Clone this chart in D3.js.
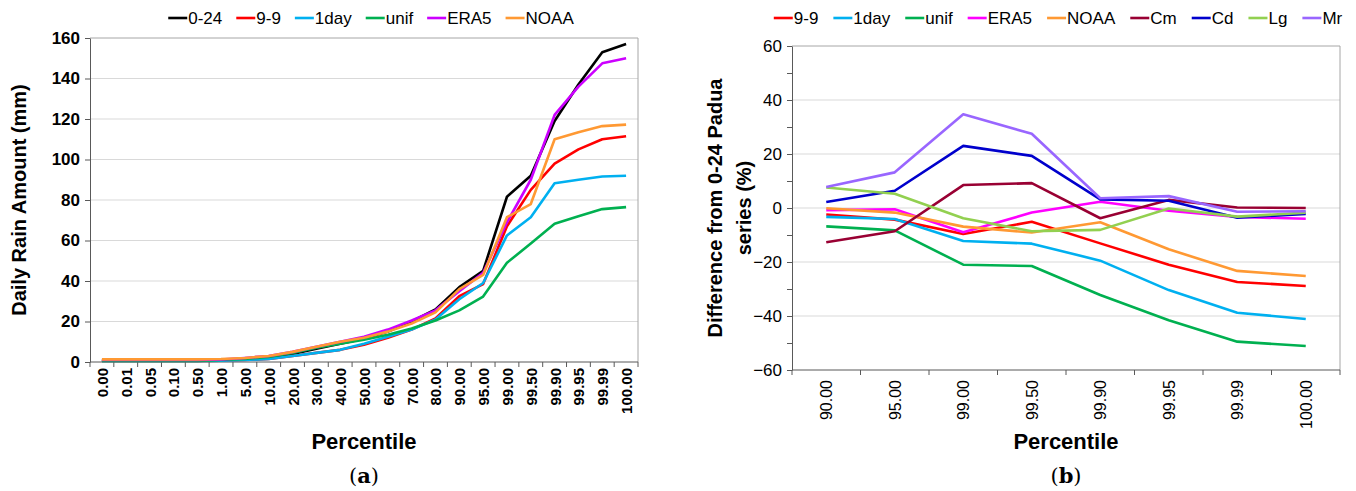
<!DOCTYPE html>
<html>
<head>
<meta charset="utf-8">
<script src="https://cdn.jsdelivr.net/npm/d3@7"></script>
<style>
  body { margin: 0; background: #fff; }
  svg { display: block; font-family: "Liberation Sans Narrow", "Liberation Sans", Arial, sans-serif; }
</style>
</head>
<body>
<svg id="chart" width="1356" height="491"></svg>
<script>
// ---- panel (a) data: daily rain amount by percentile ----
const catsA = ['0.00', '0.01', '0.05', '0.10', '0.50', '1.00', '5.00', '10.00', '20.00', '30.00', '40.00', '50.00',
    '60.00', '70.00', '80.00', '90.00', '95.00', '99.00', '99.50', '99.90', '99.95', '99.99', '100.00'];
const ticksA = [0, 20, 40, 60, 80, 100, 120, 140, 160];
const s024 = [0.8, 0.8, 0.8, 0.8, 0.8, 1, 1.5, 2.5, 4, 6.5, 9, 11.5, 15, 20, 26, 37, 45, 81.6, 92, 119, 137, 153, 157];
const s99 = [0.5, 0.5, 0.5, 0.5, 0.5, 0.7, 1, 1.5, 3, 4.5, 6, 8.5, 12, 16, 21.5, 32.5, 38.5, 67, 85, 98, 105, 110, 111.5];
const s1day = [0.5, 0.5, 0.5, 0.5, 0.5, 0.7, 1, 1.5, 3, 4.5, 6, 9, 12.5, 16, 21, 31, 39, 62.5, 71.5, 88.3, 90, 91.6, 92];
const sUnif = [0.5, 0.5, 0.5, 0.5, 0.5, 1, 1.5, 2.5, 4.5, 7, 9, 11, 13.5, 16.5, 20.5, 25.5, 32.3, 49, 58.5, 68.3, 72, 75.5, 76.5];
const sEra5 = [1, 1, 1, 1, 1, 1.2, 2, 3, 5, 7.5, 10, 12.5, 16, 20.5, 25.5, 35, 44, 69, 90, 122, 136, 147.5, 150];
const sNoaa = [1.3, 1.3, 1.3, 1.3, 1.3, 1.5, 2, 3, 5, 7.5, 10, 12, 15, 19, 24.5, 36, 43, 71.5, 78, 110, 113.5, 116.5, 117.2];

// ---- panel (b) data: difference from the 0-24 Padua series (%) ----
const catsB = ['90.00', '95.00', '99.00', '99.50', '99.90', '99.95', '99.99', '100.00'];
const ticksB = [-60, -40, -20, 0, 20, 40, 60];
const minorB = [-50, -30, -10, 10, 30, 50];
const d99 = [-2.4, -4.3, -9.6, -5.1, -13.1, -21, -27.4, -28.9];
const d1day = [-3.3, -4.1, -12.2, -13.2, -19.5, -30.4, -38.8, -41.1];
const dUnif = [-6.8, -8.3, -21, -21.5, -32.2, -41.6, -49.5, -51.1];
const dEra5 = [-0.8, -0.5, -9, -1.7, 2.3, -1, -3.3, -4];
const dNoaa = [-0.1, -1.7, -6.9, -9.1, -5.3, -15.3, -23.3, -25.2];
const dCm = [-12.7, -8.6, 8.5, 9.2, -3.8, 3, 0.2, 0];
const dCd = [2.2, 6.4, 23, 19.3, 3.2, 2.7, -3.6, -2.2];
const dLg = [7.6, 5.3, -3.8, -8.6, -8.1, -0.2, -3.2, -1.7];
const dMr = [7.8, 13.2, 34.7, 27.5, 3.6, 4.4, -1.4, -1.2];

const svg = d3.select('#chart');

function drawPanel (cfg) {
    const g = svg.append('g');
    const x = d3.scaleBand().domain(cfg.cats).range([cfg.left, cfg.right]);
    const y = d3.scaleLinear().domain(cfg.domain).range([cfg.bottom, cfg.top]);
    const wt = cfg.bold ? 'bold' : 'normal';

    // grid
    g.append('g').selectAll('line').data(cfg.ticks.filter(t => t !== cfg.domain[0] && t !== cfg.domain[1]))
        .join('line')
        .attr('x1', cfg.left).attr('x2', cfg.right)
        .attr('y1', d => y(d)).attr('y2', d => y(d))
        .attr('stroke', '#d9d9d9').attr('stroke-width', 1);

    // frame (top/right)
    g.append('path')
        .attr('d', `M${cfg.left},${cfg.top}H${cfg.right}V${cfg.bottom}`)
        .attr('fill', 'none').attr('stroke', '#a6a6a6');

    // y axis
    const yAxis = g.append('g').attr('transform', `translate(${cfg.left},0)`)
        .call(d3.axisLeft(y).tickValues(cfg.ticks).tickSize(5).tickPadding(5).tickSizeOuter(0));
    yAxis.select('.domain').attr('stroke', '#595959');
    yAxis.selectAll('.tick line').attr('stroke', '#595959');
    yAxis.selectAll('text').attr('font-size', 17).attr('font-weight', wt).attr('fill', '#000')
        .attr('font-family', 'Liberation Sans Narrow, Liberation Sans, sans-serif');
    if (cfg.minor) {
        g.append('g').attr('transform', `translate(${cfg.left},0)`)
            .call(d3.axisLeft(y).tickValues(cfg.minor).tickSize(5).tickFormat(''))
            .call(s => s.select('.domain').remove())
            .selectAll('.tick line').attr('stroke', '#595959');
    }

    // x axis: ticks between categories
    const xg = g.append('g');
    xg.append('line').attr('x1', cfg.left).attr('x2', cfg.right)
        .attr('y1', cfg.bottom).attr('y2', cfg.bottom).attr('stroke', '#595959');
    const bounds = cfg.cats.map(c => x(c)).concat([cfg.right]);
    xg.selectAll('line.tk').data(bounds).join('line').attr('class', 'tk')
        .attr('x1', d => d).attr('x2', d => d)
        .attr('y1', cfg.bottom).attr('y2', cfg.bottom + 5).attr('stroke', '#595959');
    xg.selectAll('text').data(cfg.cats).join('text')
        .attr('transform', d => `translate(${x(d) + x.bandwidth() / 2 + 6},${cfg.bottom + cfg.labelGap}) rotate(-90)`)
        .attr('text-anchor', 'end')
        .attr('font-size', cfg.xFont).attr('font-weight', wt)
        .attr('font-family', 'Liberation Sans, Arial, sans-serif')
        .text(d => d);

    // lines
    const line = d3.line()
        .x((d, i) => x(cfg.cats[i]) + x.bandwidth() / 2)
        .y(d => y(d));
    g.append('g').selectAll('path').data(cfg.series).join('path')
        .attr('d', s => line(s.values))
        .attr('fill', 'none').attr('stroke', s => s.color)
        .attr('stroke-width', 2.6).attr('stroke-linejoin', 'round');

    // legend
    const lg = g.append('g').attr('font-size', 17);
    let cx = 0;
    cfg.series.forEach(s => {
        const it = lg.append('g').attr('transform', `translate(${cx},0)`);
        it.append('line').attr('x1', 0).attr('x2', 19).attr('y1', 0).attr('y2', 0)
            .attr('stroke', s.color).attr('stroke-width', 2.6);
        const t = it.append('text').attr('x', 20).attr('y', 6).text(s.name);
        cx += 20 + t.node().getComputedTextLength() + cfg.legendGap;
    });
    const lw = cx - cfg.legendGap;
    lg.attr('transform', `translate(${cfg.legendX - lw / 2},${cfg.legendY})`);

    // y title
    const yt = g.append('text')
        .attr('transform', `translate(${cfg.yTitleX},${(cfg.top + cfg.bottom) / 2}) rotate(-90)`)
        .attr('text-anchor', 'middle').attr('font-size', 20).attr('font-weight', 'bold')
        .attr('font-family', 'Liberation Sans, Arial, sans-serif');
    cfg.yTitle.forEach((l, i) => {
        yt.append('tspan').attr('x', 0).attr('dy', i === 0 ? 0 : 29).text(l);
    });

    // x title and panel tag
    const mid = (cfg.left + cfg.right) / 2;
    g.append('text').attr('x', mid).attr('y', 449).attr('text-anchor', 'middle')
        .attr('font-size', 22).attr('font-weight', 'bold')
        .attr('font-family', 'Liberation Sans, Arial, sans-serif').text('Percentile');
    const tag = g.append('text').attr('x', mid).attr('y', 483).attr('text-anchor', 'middle')
        .attr('font-size', 21).attr('font-family', 'DejaVu Serif, Liberation Serif, serif');
    tag.append('tspan').text('(');
    tag.append('tspan').attr('font-weight', 'bold').text(cfg.tag);
    tag.append('tspan').text(')');
}

drawPanel({
    cats: catsA, ticks: ticksA, domain: [0, 160],
    left: 90, right: 638, top: 38, bottom: 362,
    bold: true, xFont: 15, labelGap: 6,
    legendX: 371, legendY: 18, legendGap: 14,
    yTitleX: 26, yTitle: ['Daily Rain Amount (mm)'], tag: 'a',
    series: [
        { name: '0-24', color: '#000000', values: s024 },
        { name: '9-9', color: '#ff0000', values: s99 },
        { name: '1day', color: '#00b0f0', values: s1day },
        { name: 'unif', color: '#00b050', values: sUnif },
        { name: 'ERA5', color: '#cc00ff', values: sEra5 },
        { name: 'NOAA', color: '#ff9933', values: sNoaa }
    ]
});

drawPanel({
    cats: catsB, ticks: ticksB, minor: minorB, domain: [-60, 60],
    left: 792, right: 1340, top: 46, bottom: 370,
    bold: false, xFont: 16, labelGap: 10,
    legendX: 1058, legendY: 18, legendGap: 15,
    yTitleX: 722, yTitle: ['Difference from 0-24 Padua', 'series (%)'], tag: 'b',
    series: [
        { name: '9-9', color: '#ff0000', values: d99 },
        { name: '1day', color: '#00b0f0', values: d1day },
        { name: 'unif', color: '#00b050', values: dUnif },
        { name: 'ERA5', color: '#ff00ff', values: dEra5 },
        { name: 'NOAA', color: '#ff9933', values: dNoaa },
        { name: 'Cm', color: '#990033', values: dCm },
        { name: 'Cd', color: '#0000cc', values: dCd },
        { name: 'Lg', color: '#92d050', values: dLg },
        { name: 'Mr', color: '#9966ff', values: dMr }
    ]
});
</script>
</body>
</html>
